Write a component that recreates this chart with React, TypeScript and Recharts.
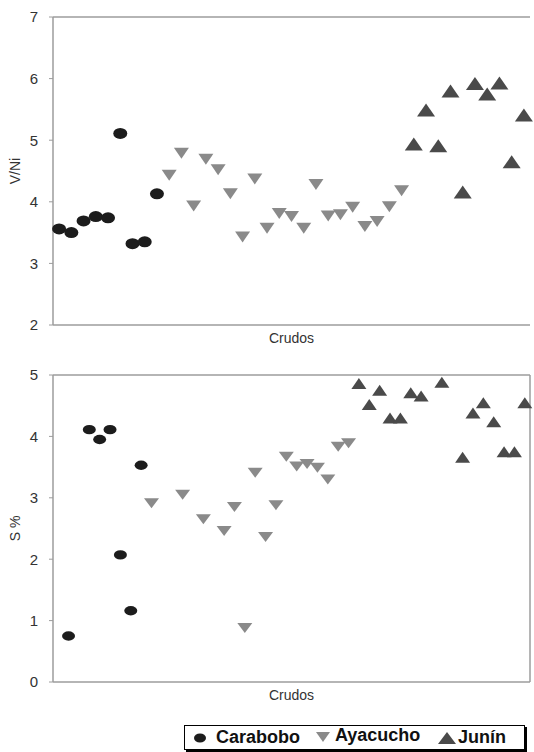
import { ScatterChart, Scatter, XAxis, YAxis, ReferenceLine } from 'recharts';

// V/Ni por crudo (posición = número de muestra)
const vniCarabobo = [3.56, 3.50, 3.69, 3.76, 3.74, 5.11, 3.32, 3.35, 4.13];
const vniAyacucho = [4.43, 4.79, 3.93, 4.69, 4.52, 4.13, 3.43, 4.37, 3.57, 3.81, 3.76, 3.57, 4.28, 3.77, 3.79, 3.91, 3.60, 3.68, 3.92, 4.18];
const vniJunin = [4.94, 5.49, 4.91, 5.80, 4.16, 5.92, 5.75, 5.93, 4.65, 5.41];

// S % (null = sin dato)
const sCarabobo = [null, 0.75, null, 4.11, 3.95, 4.11, 2.07, 1.16, 3.53];
const sAyacucho = [2.91, null, null, 3.05, null, 2.65, null, 2.46, 2.85, 0.88, 3.41, 2.36, 2.88, 3.67, 3.51, 3.55, 3.49, 3.30, 3.83, 3.89];
const sJunin = [4.86, 4.52, 4.75, 4.30, 4.30, 4.71, 4.66, null, 4.88, null, 3.66, 4.38, 4.55, 4.24, 3.75, 3.75, 4.55];

const vniTicks = [2, 3, 4, 5, 6, 7];
const sTicks = [0, 1, 2, 3, 4, 5];

const toPoints = (vals: (number | null)[], start: number) =>
  vals
    .map((y, i) => ({ x: start + i, y }))
    .filter((p) => p.y !== null);

const AXIS = '#9c9c9c';
const TXT = '#333';
const C_CARA = '#1c1c1c';
const C_AYA = '#8a8a8a';
const C_JUN = '#4a4a4a';

const ellipse = (rx: number, ry: number) => (p: any) =>
  <ellipse cx={p.cx} cy={p.cy} rx={rx} ry={ry} fill={C_CARA} />;

const triDown = (w: number, h: number) => (p: any) => (
  <path d={`M${p.cx - w / 2},${p.cy - h / 2}L${p.cx + w / 2},${p.cy - h / 2}L${p.cx},${p.cy + h / 2}Z`} fill={C_AYA} />
);

const triUp = (w: number, h: number) => (p: any) => (
  <path d={`M${p.cx - w / 2},${p.cy + h / 2}L${p.cx + w / 2},${p.cy + h / 2}L${p.cx},${p.cy - h / 2}Z`} fill={C_JUN} />
);

function Panel({ n, yLabel, domain, ticks, series, height, top, box, sizes }: any) {
  return (
    <ScatterChart width={534} height={height} margin={{ top, right: 4, bottom: 0, left: 0 }}>
      <XAxis
        type="number"
        dataKey="x"
        domain={[-0.5, n - 0.5]}
        tick={false}
        tickLine={false}
        axisLine={{ stroke: AXIS, strokeWidth: 1.5 }}
        height={35}
        label={{ value: 'Crudos', position: 'insideTop', offset: 8, style: { fontSize: 14, fill: TXT } }}
      />
      <YAxis
        type="number"
        dataKey="y"
        domain={domain}
        ticks={ticks}
        width={53}
        tickSize={4}
        tickMargin={11}
        tick={{ fontSize: 15, fill: TXT }}
        tickLine={{ stroke: AXIS }}
        axisLine={{ stroke: AXIS, strokeWidth: 1.5 }}
        label={{ value: yLabel, angle: -90, position: 'insideLeft', offset: 15, style: { textAnchor: 'middle', fontSize: 14, fill: TXT } }}
      />
      <ReferenceLine y={domain[1]} stroke={AXIS} strokeWidth={1.5} />
      {box && <ReferenceLine x={n - 0.5} stroke={AXIS} strokeWidth={1.5} />}
      <Scatter data={series[0]} shape={ellipse(sizes[0][0], sizes[0][1])} isAnimationActive={false} />
      <Scatter data={series[1]} shape={triDown(sizes[1][0], sizes[1][1])} isAnimationActive={false} />
      <Scatter data={series[2]} shape={triUp(sizes[2][0], sizes[2][1])} isAnimationActive={false} />
    </ScatterChart>
  );
}

const abs = (left: number, top = 0): React.CSSProperties => ({ position: 'absolute', left, top });

export default function App() {
  const top = [toPoints(vniCarabobo, 0), toPoints(vniAyacucho, 9), toPoints(vniJunin, 29)];
  const bottom = [toPoints(sCarabobo, 0), toPoints(sAyacucho, 9), toPoints(sJunin, 29)];

  return (
    <div style={{ position: 'absolute', left: 0, top: 0, width: 534, height: 752, background: '#fff', fontFamily: '"Liberation Sans", Arial, sans-serif' }}>
      <div style={abs(0, 0)}>
        <Panel n={39} yLabel="V/Ni" domain={[2, 7]} ticks={vniTicks} series={top} height={360} top={17} box={false}
          sizes={[[7, 5.5], [15, 11], [18, 13]]} />
      </div>
      <div style={abs(0, 360)}>
        <Panel n={46} yLabel="S %" domain={[0, 5]} ticks={sTicks} series={bottom} height={357} top={15} box
          sizes={[[6.5, 4.7], [15, 10], [15, 11]]} />
      </div>
      {/* leyenda */}
      <div style={{
        position: 'absolute', left: 184, top: 725, width: 339, height: 23, border: '1px solid #000',
        boxShadow: '2px 2px 0 #000', fontWeight: 'bold', fontSize: 18, lineHeight: '23px', color: '#111',
      }}>
        <svg width={14} height={12} style={abs(8, 6)}><ellipse cx={7} cy={6} rx={6} ry={4.5} fill={C_CARA} /></svg>
        <span style={abs(31, 0)}>Carabobo</span>
        <svg width={16} height={12} style={abs(130, 5)}><path d="M1,1L15,1L8,11Z" fill={C_AYA} /></svg>
        <span style={abs(150, -2)}>Ayacucho</span>
        <svg width={20} height={14} style={abs(252, 5)}><path d="M1,13L19,13L10,1Z" fill={C_JUN} /></svg>
        <span style={abs(273, 0)}>Junín</span>
      </div>
    </div>
  );
}
